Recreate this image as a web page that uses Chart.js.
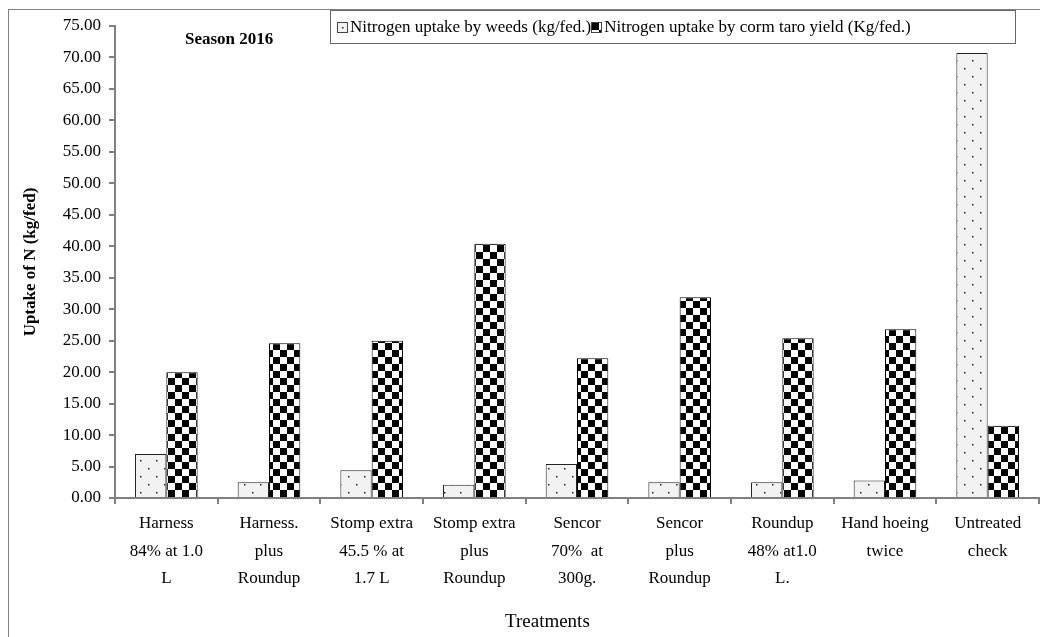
<!DOCTYPE html>
<html>
<head>
<meta charset="utf-8">
<script src="https://cdn.jsdelivr.net/npm/chart.js@4.4.0/dist/chart.umd.min.js"></script>
<style>
  html, body { margin:0; padding:0; background:#fff; }
  #wrap { position:relative; width:1040px; height:637px; overflow:hidden; font-family:"Liberation Serif", "DejaVu Serif", serif; }
  #frame { position:absolute; left:8px; top:9px; width:1100px; height:700px; border-left:1.5px solid #808080; border-top:1.5px solid #808080; }
  #legend { position:absolute; left:330px; top:10px; width:684px; height:32px; border:1px solid #666; background:#fff;
            font-size:17px; line-height:32px; white-space:nowrap; color:#000; }
  #legend span.item { display:inline-block; }
  #legend canvas { vertical-align:-1px; border:1px solid #444; margin:0 2px 0 6px; }
  #season { position:absolute; left:185px; top:29px; font-weight:bold; font-size:17px; color:#000; }
  #xtitle { position:absolute; left:505px; top:610px; font-size:19px; color:#000; }
  canvas#chart { position:absolute; left:0; top:0; }
</style>
</head>
<body>
<div id="wrap">
  <div id="frame"></div>
  <canvas id="chart" width="1040" height="637"></canvas>
  <div id="season">Season 2016</div>
  <div id="xtitle">Treatments</div>
  <div id="legend"></div>
</div>
<script>
// categories (multi-line tick labels)
var treatments = [
  ["Harness", "84% at 1.0", "L"],
  ["Harness.", "plus", "Roundup"],
  ["Stomp extra", "45.5 % at", "1.7 L"],
  ["Stomp extra", "plus", "Roundup"],
  ["Sencor", "70%  at", "300g."],
  ["Sencor", "plus", "Roundup"],
  ["Roundup", "48% at1.0", "L."],
  ["Hand hoeing", "twice"],
  ["Untreated", "check"]
];
var seriesNames = ["Nitrogen uptake by weeds (kg/fed.)", "Nitrogen uptake by corm taro yield (Kg/fed.)"];
var weedsN = [7.0, 2.5, 4.4, 2.1, 5.4, 2.5, 2.5, 2.8, 70.7];
var taroN  = [20.0, 24.6, 25.0, 40.4, 22.2, 31.9, 25.4, 26.8, 11.5];

// fill patterns
function dotPattern(ctx){
  var c = document.createElement("canvas"); c.width = 16; c.height = 16;
  var g = c.getContext("2d");
  g.fillStyle = "#f2f2f2"; g.fillRect(0, 0, 16, 16);
  g.fillStyle = "#222";
  g.fillRect(4, 4, 1.5, 1.5);
  g.fillRect(12, 12, 1.5, 1.5);
  return ctx.createPattern(c, "repeat");
}
function checkPattern(ctx){
  var s = 7;
  var c = document.createElement("canvas"); c.width = s * 2; c.height = s * 2;
  var g = c.getContext("2d");
  g.fillStyle = "#fff"; g.fillRect(0, 0, s * 2, s * 2);
  g.fillStyle = "#000";
  g.fillRect(0, 0, s, s);
  g.fillRect(s, s, s, s);
  return ctx.createPattern(c, "repeat");
}

var ctx = document.getElementById("chart").getContext("2d");
var fills = [dotPattern(ctx), checkPattern(ctx)];

// legend
var legend = document.getElementById("legend");
seriesNames.forEach(function(name, i){
  var item = document.createElement("span");
  item.className = "item";
  var sw = document.createElement("canvas");
  sw.width = 9; sw.height = 9;
  var sctx = sw.getContext("2d");
  sctx.fillStyle = (i === 0) ? dotPattern(sctx) : checkPattern(sctx);
  sctx.fillRect(0, 0, 9, 9);
  if (i === 1) sw.style.marginLeft = "0px";
  item.appendChild(sw);
  item.appendChild(document.createTextNode(name));
  legend.appendChild(item);
});

var serif = "'Liberation Serif', 'DejaVu Serif', serif";

new Chart(ctx, {
  type: "bar",
  data: {
    labels: treatments,
    datasets: [
      { label: seriesNames[0], data: weedsN, backgroundColor: fills[0], borderColor: "#222", borderWidth: 1,
        categoryPercentage: 0.61, barPercentage: 1.0 },
      { label: seriesNames[1], data: taroN, backgroundColor: fills[1], borderColor: "#000", borderWidth: 1,
        categoryPercentage: 0.61, barPercentage: 1.0 }
    ]
  },
  options: {
    responsive: false,
    animation: false,
    layout: { padding: { left: 8, right: 1, top: 26, bottom: 0 } },
    plugins: { legend: { display: false }, tooltip: { enabled: false } },
    scales: {
      x: {
        grid: { drawOnChartArea: false, drawTicks: true, tickLength: 6, color: "#808080", lineWidth: 2, offset: true },
        border: { color: "#808080", width: 2 },
        ticks: { color: "#000", font: { family: serif, size: 17, lineHeight: 1.62 }, padding: 6, maxRotation: 0, autoSkip: false },
        afterFit: function(s){ s.height = 139; }
      },
      y: {
        min: 0, max: 75,
        grid: { drawOnChartArea: false, drawTicks: true, tickLength: 6, color: "#808080", lineWidth: 2 },
        border: { color: "#808080", width: 2 },
        ticks: { stepSize: 5, color: "#000", font: { family: serif, size: 17 }, padding: 8,
                 callback: function(v){ return v.toFixed(2); } },
        title: { display: true, text: "Uptake of N (kg/fed)", color: "#000", font: { family: serif, size: 17, weight: "bold" },
                 padding: { top: 12, bottom: 0 } },
        afterFit: function(s){ s.width = 107; }
      }
    }
  }
});
</script>
</body>
</html>
